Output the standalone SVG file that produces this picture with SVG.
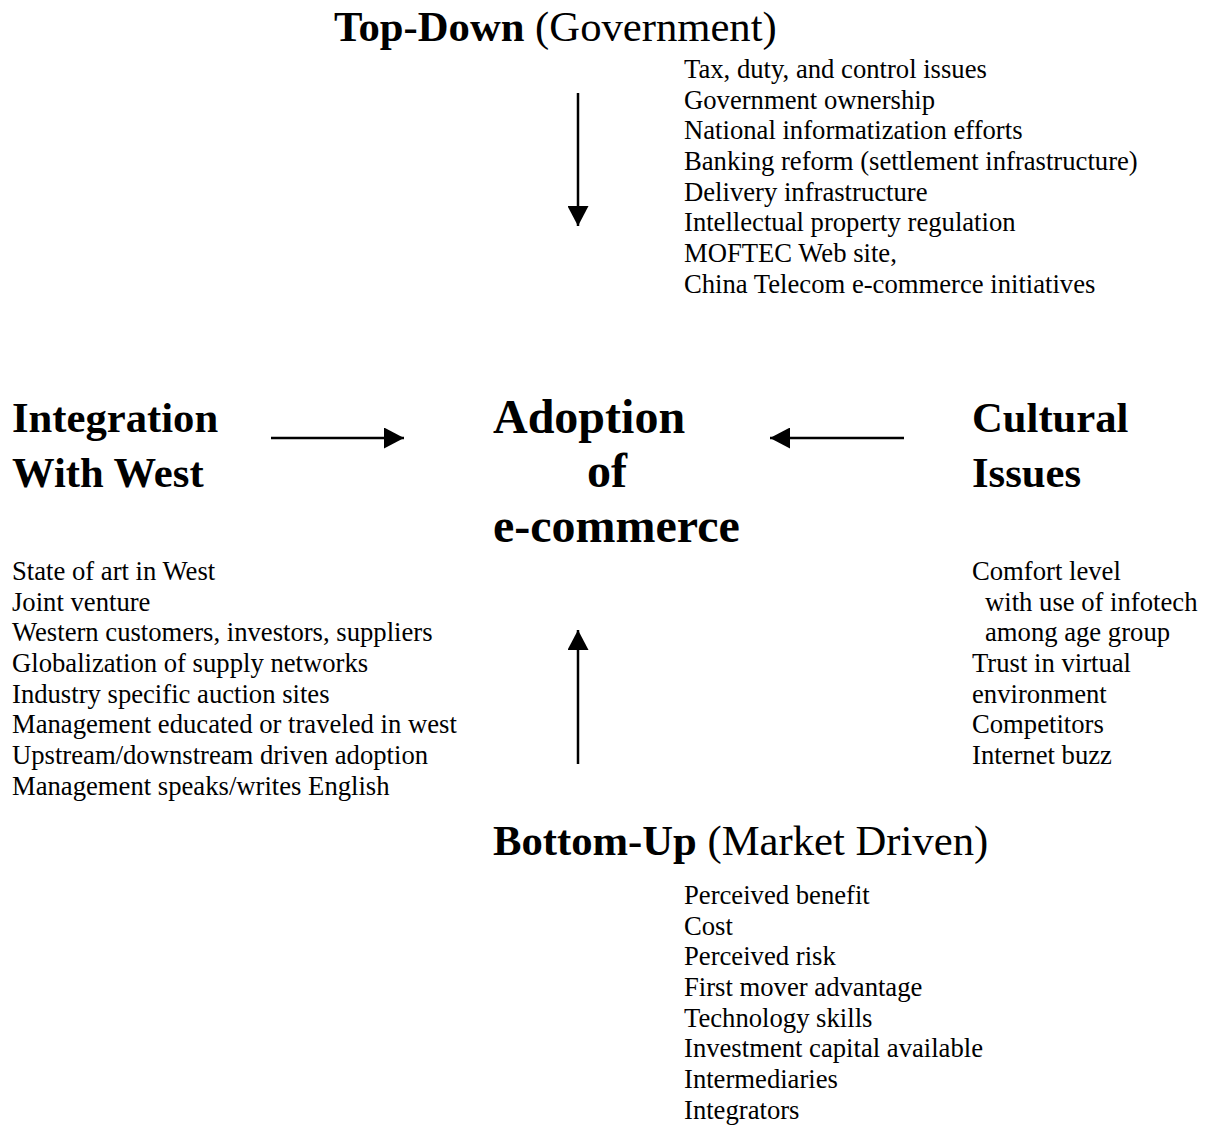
<svg xmlns="http://www.w3.org/2000/svg" width="1206" height="1126" viewBox="0 0 1206 1126">
<style>
text{font-family:"Liberation Serif","Times New Roman",serif;fill:#000}
.t{font-size:42.67px}
.b{font-weight:bold}
.c{font-size:48px;font-weight:bold}
.l{font-size:26.67px}
.ln{stroke:#000;stroke-width:2.5;fill:none}
</style>
<defs>
<marker id="ah" viewBox="0 0 20 21" refX="20" refY="10.5" markerWidth="20" markerHeight="21" markerUnits="userSpaceOnUse" orient="auto">
<path d="M0,0 L20,10.5 L0,21 Z" fill="#000"/>
</marker>
</defs>
<rect width="1206" height="1126" fill="#fff"/>
<g id="connectors">
<line class="ln" x1="578" y1="93" x2="578" y2="226" marker-end="url(#ah)"/>
<line class="ln" x1="271" y1="438" x2="404" y2="438" marker-end="url(#ah)"/>
<line class="ln" x1="904" y1="438" x2="770" y2="438" marker-end="url(#ah)"/>
<line class="ln" x1="578" y1="764" x2="578" y2="630" marker-end="url(#ah)"/>
</g>
<g id="topdown">
<text class="t" x="334" y="41"><tspan class="b">Top-Down</tspan> (Government)</text>
<text class="l" x="684" y="78">Tax, duty, and control issues</text>
<text class="l" x="684" y="108.7">Government ownership</text>
<text class="l" x="684" y="139.3">National informatization efforts</text>
<text class="l" x="684" y="170">Banking reform (settlement infrastructure)</text>
<text class="l" x="684" y="200.7">Delivery infrastructure</text>
<text class="l" x="684" y="231.3">Intellectual property regulation</text>
<text class="l" x="684" y="262">MOFTEC Web site,</text>
<text class="l" x="684" y="292.7">China Telecom e-commerce initiatives</text>
</g>
<g id="integration">
<text class="t b" x="12" y="432">Integration</text>
<text class="t b" x="12" y="487">With West</text>
<text class="l" x="12" y="580">State of art in West</text>
<text class="l" x="12" y="610.7">Joint venture</text>
<text class="l" x="12" y="641.3">Western customers, investors, suppliers</text>
<text class="l" x="12" y="672">Globalization of supply networks</text>
<text class="l" x="12" y="702.7">Industry specific auction sites</text>
<text class="l" x="12" y="733.3">Management educated or traveled in west</text>
<text class="l" x="12" y="764">Upstream/downstream driven adoption</text>
<text class="l" x="12" y="794.7">Management speaks/writes English</text>
</g>
<g id="adoption">
<text class="c" x="493" y="433">Adoption</text>
<text class="c" x="587" y="487">of</text>
<text class="c" x="493" y="542">e-commerce</text>
</g>
<g id="cultural">
<text class="t b" x="972" y="432">Cultural</text>
<text class="t b" x="972" y="487">Issues</text>
<text class="l" x="972" y="580">Comfort level</text>
<text class="l" x="985" y="610.7">with use of infotech</text>
<text class="l" x="985" y="641.3">among age group</text>
<text class="l" x="972" y="672">Trust in virtual</text>
<text class="l" x="972" y="702.7">environment</text>
<text class="l" x="972" y="733.3">Competitors</text>
<text class="l" x="972" y="764">Internet buzz</text>
</g>
<g id="bottomup">
<text class="t" x="493" y="855"><tspan class="b">Bottom-Up</tspan> (Market Driven)</text>
<text class="l" x="684" y="904">Perceived benefit</text>
<text class="l" x="684" y="934.7">Cost</text>
<text class="l" x="684" y="965.3">Perceived risk</text>
<text class="l" x="684" y="996">First mover advantage</text>
<text class="l" x="684" y="1026.7">Technology skills</text>
<text class="l" x="684" y="1057.3">Investment capital available</text>
<text class="l" x="684" y="1088">Intermediaries</text>
<text class="l" x="684" y="1118.7">Integrators</text>
</g>
</svg>
